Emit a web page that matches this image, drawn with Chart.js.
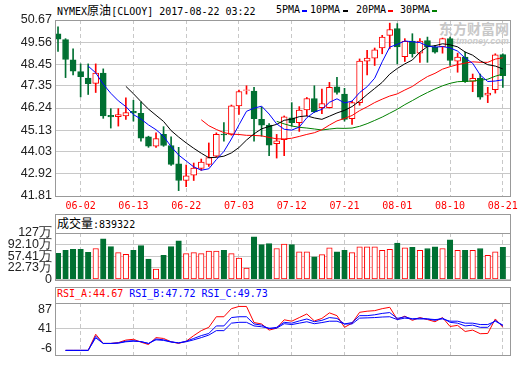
<!DOCTYPE html>
<html>
<head>
<meta charset="utf-8">
<script src="https://cdn.jsdelivr.net/npm/chart.js@4.4.1/dist/chart.umd.min.js"></script>
<style>
  body { margin: 0; width: 520px; height: 365px; background: #fff; position: relative; overflow: hidden; }
  canvas { position: absolute; left: 0; }
  .txt { position: absolute; white-space: nowrap; font-family: "DejaVu Sans Mono", monospace; font-size: 10px; line-height: 12px; color: #000; }
  .cjk { font-family: "Noto Sans CJK SC", sans-serif; font-size: 12px; }
  .box { position: absolute; left: 55px; width: 456px; border: 1px solid #999; box-sizing: border-box; }
  .dash { position: absolute; top: 10px; width: 5px; height: 2px; }
  #wm { position: absolute; left: 439px; top: 20px; color: #c8c8c8; font-family: "Noto Sans CJK SC"; font-weight: bold; font-size: 14px; line-height: 16px; }
  #wm2 { position: absolute; left: 441px; top: 36px; color: #cccccc; font: italic bold 9px "Liberation Sans"; }
</style>
</head>
<body>
<div id="wm">东方财富网</div>
<div id="wm2">eastmoney.com</div>
<div class="txt" style="left:57px;top:4px">NYMEX<span class="cjk">原油</span>[CLOOY] 2017-08-22 03:22</div>
<div class="txt" style="left:276px;top:4px">5PMA</div><div class="dash" style="left:302px;background:#0000ff"></div>
<div class="txt" style="left:310px;top:4px">10PMA</div><div class="dash" style="left:343px;background:#000"></div>
<div class="txt" style="left:356px;top:4px">20PMA</div><div class="dash" style="left:388px;background:#ff0000"></div>
<div class="txt" style="left:400px;top:4px">30PMA</div><div class="dash" style="left:432px;background:#008000"></div>

<div class="box" style="top:214px;height:20px"></div>
<div class="txt" style="left:57px;top:216px;line-height:13px"><span class="cjk">成交量</span>:839322</div>
<div class="box" style="top:287px;height:17px"></div>
<div class="txt" style="left:57px;top:288px"><span style="color:#ff0000">RSI_A:44.67</span> <span style="color:#0000ff">RSI_B:47.72</span> <span style="color:#0000ff">RSI_C:49.73</span></div>

<canvas id="main" width="520" height="215" style="top:0"></canvas>
<canvas id="vol" width="520" height="76" style="top:214px"></canvas>
<canvas id="rsi" width="520" height="77" style="top:288px"></canvas>

<script>
const dates = ['05-30','05-31','06-01','06-02','06-05','06-06','06-07','06-08','06-09','06-12',
  '06-13','06-14','06-15','06-16','06-19','06-20','06-21','06-22','06-23','06-26',
  '06-27','06-28','06-29','06-30','07-03','07-04','07-05','07-06','07-07','07-10',
  '07-11','07-12','07-13','07-14','07-17','07-18','07-19','07-20','07-21','07-24',
  '07-25','07-26','07-27','07-28','07-31','08-01','08-02','08-03','08-04','08-07',
  '08-08','08-09','08-10','08-11','08-14','08-15','08-16','08-17','08-18','08-21'];
const tickDates = ['06-02','06-13','06-22','07-03','07-12','07-21','08-01','08-10','08-21'];

const open = [49.98, 49.68, 48.66, 48.07, 47.75, 47.48, 48.00, 45.87, 45.80, 45.84,
  46.07, 45.97, 44.79, 44.32, 44.91, 44.35, 43.43, 42.59, 42.86, 43.20,
  43.40, 43.81, 44.93, 44.91, 46.35, 47.12, 47.09, 45.67, 45.38, 44.45,
  44.65, 45.75, 45.50, 46.14, 46.72, 46.26, 46.26, 47.31, 46.94, 45.70,
  46.51, 48.60, 48.75, 49.26, 49.90, 50.24, 48.83, 49.61, 49.00, 49.64,
  49.31, 49.31, 49.73, 48.60, 48.80, 47.58, 47.73, 46.89, 47.16, 48.93];
const high = [50.32, 49.73, 49.22, 48.46, 48.46, 48.46, 48.21, 46.21, 46.21, 46.75,
  46.63, 46.55, 44.82, 44.99, 45.30, 44.79, 44.26, 43.37, 43.47, 43.67,
  44.48, 44.99, 45.50, 46.39, 47.14, 47.36, 47.28, 46.29, 45.45, 44.91,
  45.84, 46.51, 46.31, 46.77, 47.36, 47.19, 47.53, 47.78, 47.23, 46.58,
  48.71, 49.14, 49.26, 49.90, 50.51, 50.49, 49.73, 49.98, 49.73, 49.81,
  49.39, 49.76, 49.81, 49.00, 49.05, 47.95, 47.95, 47.28, 48.97, 48.97];
const low = [49.09, 47.77, 47.90, 46.80, 46.92, 47.02, 45.72, 45.23, 45.33, 45.67,
  45.58, 44.57, 44.26, 44.26, 44.31, 43.35, 42.08, 42.28, 42.59, 43.10,
  43.30, 43.78, 44.57, 44.87, 45.92, 46.94, 44.57, 44.82, 43.84, 43.72,
  43.84, 45.33, 45.06, 45.84, 46.01, 45.96, 46.24, 46.94, 45.58, 45.41,
  46.38, 47.90, 48.38, 48.97, 49.22, 48.46, 48.58, 48.80, 48.54, 48.54,
  49.00, 49.00, 48.38, 48.04, 47.53, 47.06, 46.68, 46.51, 46.99, 47.28];
const close = [49.70, 48.68, 48.09, 47.82, 47.46, 48.00, 45.84, 45.79, 45.91, 46.01,
  45.99, 44.72, 44.32, 44.70, 44.35, 43.40, 42.59, 42.83, 43.21, 43.52,
  43.74, 44.91, 44.88, 46.35, 47.07, 47.16, 45.70, 45.38, 44.37, 44.59,
  45.80, 45.50, 46.13, 46.72, 46.04, 46.46, 47.28, 47.02, 45.67, 46.51,
  48.60, 48.75, 49.17, 49.81, 50.19, 49.31, 49.59, 48.97, 49.61, 49.31,
  49.05, 49.73, 48.63, 48.80, 47.56, 47.73, 46.79, 46.99, 48.92, 47.87];

// volume in 万
const volume = [66.1, 74.8, 77.7, 77.7, 69.0, 80.5, 109.4, 86.3, 68.0, 63.2,
  74.8, 89.2, 48.8, 18.9, 60.3, 86.3, 103.7, 65.1, 68.0, 65.1,
  72.8, 72.8, 74.8, 65.1, 51.7, 21.8, 115.2, 92.1, 95.0, 80.5,
  94.0, 92.1, 70.9, 70.9, 55.5, 62.2, 82.5, 70.9, 74.8, 68.0,
  85.4, 85.4, 85.4, 74.8, 77.7, 96.9, 82.5, 84.4, 74.8, 80.5,
  85.4, 80.5, 106.5, 74.8, 74.8, 74.8, 80.5, 60.3, 70.9, 83.93];

const rsiA = [null, -10.6, -10.6, -10.6, -10.6, 27.8, 5.9, 5.9, 7.9, 13.9,
  15.8, 9.0, 3.3, 19.8, 17.8, 9.9, 5.9, 11.2, 24.5, 36.4,
  44.3, 69.5, 69.5, 88.7, 94.0, 94.0, 55.6, 52.3, 37.7, 42.3,
  62.2, 58.9, 67.5, 76.1, 59.5, 65.5, 78.7, 72.1, 44.3, 54.2,
  80.0, 82.7, 84.0, 88.7, 92.0, 62.8, 70.8, 60.9, 67.5, 62.8,
  57.6, 67.5, 46.3, 48.9, 34.4, 37.7, 29.1, 29.7, 64.2, 44.67];
const rsiB = [null, -10.6, -10.6, -10.6, -10.6, 23.1, 5.9, 5.9, 7.2, 11.2,
  12.5, 10.0, 5.9, 16.5, 14.5, 9.9, 7.2, 11.2, 17.8, 24.5,
  29.7, 47.6, 47.6, 67.5, 69.5, 69.5, 52.3, 49.6, 41.0, 44.3,
  56.2, 54.2, 59.5, 64.2, 57.6, 60.9, 67.5, 65.5, 52.3, 55.6,
  72.1, 72.1, 74.1, 77.4, 79.4, 65.5, 69.5, 64.2, 66.2, 64.2,
  60.9, 66.2, 56.2, 54.2, 47.6, 49.6, 44.3, 44.3, 60.9, 47.72];
const rsiC = [null, -10.6, -10.6, -10.6, -10.6, 19.2, 5.9, 5.9, 6.6, 9.9,
  11.2, 10.5, 5.9, 14.5, 13.2, 9.2, 7.2, 9.9, 14.5, 19.8,
  25.8, 36.4, 36.4, 54.2, 56.2, 56.2, 47.6, 45.6, 42.3, 42.3,
  52.9, 50.9, 54.2, 57.6, 52.9, 55.6, 58.9, 58.9, 52.3, 52.3,
  66.2, 66.8, 67.5, 68.8, 69.5, 62.8, 66.2, 64.2, 64.2, 64.2,
  62.8, 64.2, 58.9, 58.9, 54.2, 54.2, 50.9, 50.9, 58.9, 49.73];

const priceTicks = [41.81, 42.92, 44.03, 45.13, 46.24, 47.35, 48.45, 49.56, 50.67];
const volTicks = [-11.96, 22.73, 57.41, 92.10, 126.79];
const volLabels = ['0', '22.73万', '57.41万', '92.10万', '127万'];
const rsiTicks = [-6, 41, 87];

const RED = '#ff0000', GREEN = '#007032';
const idx = dates.map((d, i) => i);
const tickIdx = tickDates.map(d => dates.indexOf(d));
const up = close.map((c, i) => c >= open[i]);
const lineCol = up.map(u => u ? RED : GREEN);
const fillCol = up.map(u => u ? '#ffffff' : GREEN);

function movingAvg(n) {
  const out = [];
  for (let i = n - 1; i < close.length; i++) {
    let s = 0;
    for (let k = i - n + 1; k <= i; k++) s += close[k];
    out.push({ x: i, y: s / n });
  }
  return out;
}

Chart.defaults.animation = false;
Chart.defaults.responsive = false;
Chart.defaults.events = [];
Chart.defaults.plugins.legend.display = false;
Chart.defaults.plugins.tooltip.enabled = false;

// grey frame round each plot area
const frame = {
  id: 'frame',
  afterDatasetsDraw(chart) {
    const a = chart.chartArea, c = chart.ctx;
    c.save();
    c.strokeStyle = '#999';
    c.lineWidth = 1;
    c.strokeRect(Math.round(a.left) + 0.5, Math.round(a.top) + 0.5,
      Math.round(a.right - a.left), Math.round(a.bottom - a.top));
    c.restore();
  }
};

function xAxis(showLabels, h) {
  return {
    type: 'linear', min: -0.4, max: 59.95, offset: false,
    afterBuildTicks: ax => { ax.ticks = tickIdx.map(v => ({ value: v })); },
    afterFit: ax => { ax.height = h; ax.paddingLeft = 0; ax.paddingRight = 0; },
    grid: { color: '#c8c8c8', drawTicks: false, offset: false },
    border: { display: false, dash: [4, 3] },
    ticks: {
      display: showLabels, padding: 4, color: RED, autoSkip: false, maxRotation: 0,
      font: { family: 'DejaVu Sans Mono', size: 10 },
      callback: v => dates[v]
    }
  };
}

function yAxis(min, max, vals, labels, gridColor) {
  return {
    min, max,
    afterBuildTicks: ax => { ax.ticks = vals.map(v => ({ value: v })); },
    afterFit: ax => { ax.width = 55; },
    grid: { color: gridColor, drawTicks: false },
    border: { display: false },
    ticks: {
      padding: 3, color: '#222', autoSkip: false,
      font: { family: 'Liberation Sans', size: 12.5 },
      callback: (v, i) => labels[i]
    }
  };
}

const maLine = (n, color) => ({
  type: 'line', data: movingAvg(n), borderColor: color, borderWidth: 1,
  pointRadius: 0, fill: false, tension: 0
});

new Chart(document.getElementById('main'), {
  type: 'bar',
  data: {
    datasets: [
      maLine(5, '#0000ff'),
      maLine(10, '#000000'),
      maLine(20, '#ff0000'),
      maLine(30, '#008000'),
      {
        data: idx.map(i => ({ x: i, y: [open[i], close[i]] })),
        backgroundColor: fillCol, borderColor: lineCol, borderWidth: 1,
        borderSkipped: false, barThickness: 6, grouped: false
      },
      {
        data: idx.map(i => ({ x: i, y: [low[i], high[i]] })),
        backgroundColor: lineCol, borderWidth: 0, barThickness: 1, grouped: false
      }
    ]
  },
  options: {
    layout: { padding: { left: 0, right: 10, top: 20, bottom: 0 } },
    scales: {
      x: xAxis(true, 19),
      y: yAxis(41.81, 50.67, priceTicks, priceTicks.map(v => v.toFixed(2)), '#c8c8c8')
    }
  },
  plugins: [frame]
});

new Chart(document.getElementById('vol'), {
  type: 'bar',
  data: {
    datasets: [{
      data: idx.map(i => ({ x: i, y: volume[i] })),
      base: volTicks[0],
      backgroundColor: fillCol, borderColor: lineCol, borderWidth: 1,
      borderSkipped: false, barThickness: 5.5, grouped: false
    }]
  },
  options: {
    layout: { padding: { left: 0, right: 10, top: 19, bottom: 0 } },
    scales: {
      x: xAxis(false, 10),
      y: yAxis(volTicks[0], volTicks[4], volTicks, volLabels, '#c8c8c8')
    }
  },
  plugins: [frame]
});

const rsiLine = (vals, color) => ({
  data: idx.map(i => ({ x: i, y: vals[i] })), borderColor: color, borderWidth: 1,
  pointRadius: 0, fill: false, tension: 0
});

new Chart(document.getElementById('rsi'), {
  type: 'line',
  data: {
    datasets: [rsiLine(rsiB, '#0000ff'), rsiLine(rsiC, '#0000ff'), rsiLine(rsiA, '#ff0000')]
  },
  options: {
    layout: { padding: { left: 0, right: 10, top: 15, bottom: 0 } },
    scales: {
      x: xAxis(false, 1),
      y: yAxis(-20.4, 102.2, rsiTicks, rsiTicks.map(String),
        ctx => (ctx.tick && ctx.tick.value === 41) ? '#c8c8c8' : 'rgba(0,0,0,0)')
    }
  },
  plugins: [frame]
});
</script>
</body>
</html>
